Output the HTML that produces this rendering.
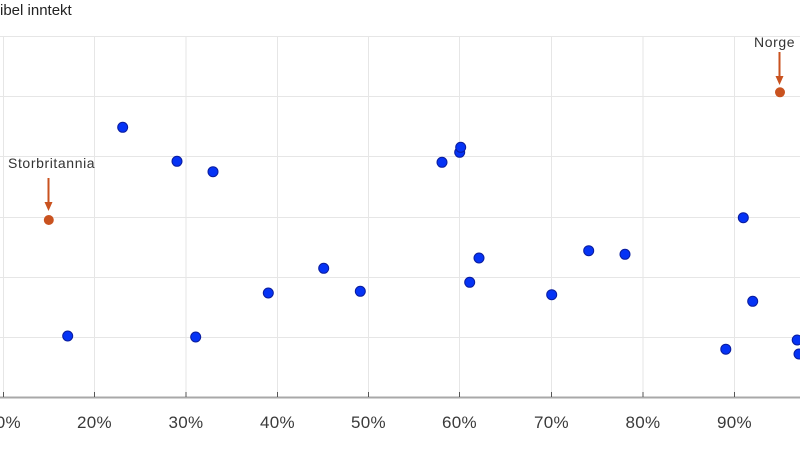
<!DOCTYPE html>
<html>
<head>
<meta charset="utf-8">
<style>
  html,body{margin:0;padding:0;background:#fff;}
  svg{display:block;}
  text{font-family:"Liberation Sans",sans-serif;}
</style>
</head>
<body>
<svg width="800" height="450" viewBox="0 0 800 450" xmlns="http://www.w3.org/2000/svg">
  <rect width="800" height="450" fill="#fff"/>
  <text x="0" y="15" font-size="15" fill="#222">ibel inntekt</text>

  <g stroke="#e6e6e6" stroke-width="1">
    <line x1="0" y1="36.5" x2="800" y2="36.5"/>
    <line x1="0" y1="96.5" x2="800" y2="96.5"/>
    <line x1="0" y1="156.5" x2="800" y2="156.5"/>
    <line x1="0" y1="217.5" x2="800" y2="217.5"/>
    <line x1="0" y1="277.5" x2="800" y2="277.5"/>
    <line x1="0" y1="337.5" x2="800" y2="337.5"/>
  </g>
  <g stroke="#e6e6e6" stroke-width="1">
    <line x1="3.5" y1="36" x2="3.5" y2="397"/>
    <line x1="94.5" y1="36" x2="94.5" y2="397"/>
    <line x1="186" y1="36" x2="186" y2="397"/>
    <line x1="277.5" y1="36" x2="277.5" y2="397"/>
    <line x1="368.5" y1="36" x2="368.5" y2="397"/>
    <line x1="459.5" y1="36" x2="459.5" y2="397"/>
    <line x1="551.5" y1="36" x2="551.5" y2="397"/>
    <line x1="643" y1="36" x2="643" y2="397"/>
    <line x1="734.5" y1="36" x2="734.5" y2="397"/>
  </g>

  <line x1="0" y1="397.5" x2="800" y2="397.5" stroke="#a8a8a8" stroke-width="2"/>
  <g stroke="#555" stroke-width="1">
    <line x1="3.5" y1="392" x2="3.5" y2="397"/>
    <line x1="94.5" y1="392" x2="94.5" y2="397"/>
    <line x1="186" y1="392" x2="186" y2="397"/>
    <line x1="277.5" y1="392" x2="277.5" y2="397"/>
    <line x1="368.5" y1="392" x2="368.5" y2="397"/>
    <line x1="459.5" y1="392" x2="459.5" y2="397"/>
    <line x1="551.5" y1="392" x2="551.5" y2="397"/>
    <line x1="643" y1="392" x2="643" y2="397"/>
    <line x1="734.5" y1="392" x2="734.5" y2="397"/>
  </g>
  <g font-size="17" fill="#3a3a3a" text-anchor="middle" letter-spacing="0.3">
    <text x="3.5" y="428">10%</text>
    <text x="94.5" y="428">20%</text>
    <text x="186" y="428">30%</text>
    <text x="277.5" y="428">40%</text>
    <text x="368.5" y="428">50%</text>
    <text x="459.5" y="428">60%</text>
    <text x="551.5" y="428">70%</text>
    <text x="643" y="428">80%</text>
    <text x="734.5" y="428">90%</text>
  </g>

  <g fill="#0533f5" stroke="#0a1c9e" stroke-width="1">
    <circle cx="67.7" cy="336" r="5"/>
    <circle cx="122.7" cy="127.3" r="5"/>
    <circle cx="177" cy="161.3" r="5"/>
    <circle cx="195.7" cy="337" r="5"/>
    <circle cx="213" cy="171.7" r="5"/>
    <circle cx="268.3" cy="293" r="5"/>
    <circle cx="323.7" cy="268.3" r="5"/>
    <circle cx="360.3" cy="291.3" r="5"/>
    <circle cx="442" cy="162.3" r="5"/>
    <circle cx="459.7" cy="152.3" r="5"/>
    <circle cx="460.7" cy="147.3" r="5"/>
    <circle cx="479" cy="258" r="5"/>
    <circle cx="469.7" cy="282.3" r="5"/>
    <circle cx="551.7" cy="294.7" r="5"/>
    <circle cx="588.7" cy="250.7" r="5"/>
    <circle cx="625" cy="254.3" r="5"/>
    <circle cx="743.3" cy="217.7" r="5"/>
    <circle cx="752.7" cy="301.3" r="5"/>
    <circle cx="725.8" cy="349.2" r="5"/>
    <circle cx="797.2" cy="340" r="5"/>
    <circle cx="799" cy="354" r="5"/>
  </g>

  <g fill="#c9521f">
    <circle cx="48.8" cy="220" r="5"/>
    <circle cx="780" cy="92.3" r="5"/>
  </g>
  <g stroke="#c9521f" stroke-width="2">
    <line x1="48.5" y1="178" x2="48.5" y2="204"/>
    <line x1="779.5" y1="52" x2="779.5" y2="78"/>
  </g>
  <g fill="#c9521f">
    <polygon points="44.5,202 52.5,202 48.5,211"/>
    <polygon points="775.5,76 783.5,76 779.5,85"/>
  </g>

  <g font-size="14" fill="#333" letter-spacing="0.6">
    <text x="8" y="168">Storbritannia</text>
    <text x="754" y="47">Norge</text>
  </g>
</svg>
</body>
</html>
